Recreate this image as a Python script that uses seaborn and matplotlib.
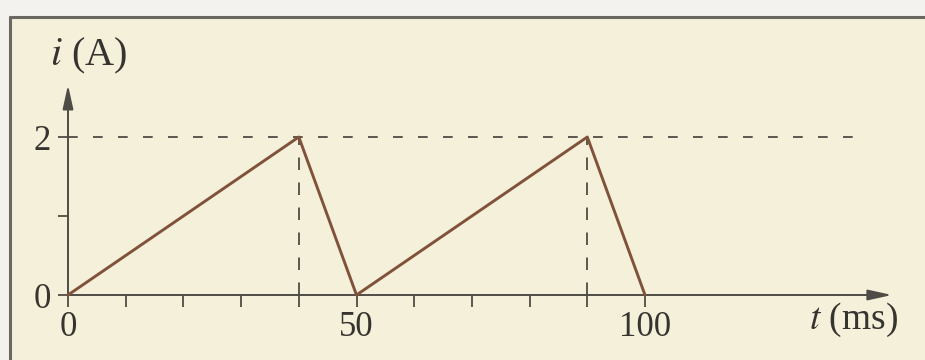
import matplotlib
matplotlib.use("Agg")
import matplotlib.pyplot as plt
import seaborn as sns
from matplotlib.lines import Line2D
from matplotlib.patches import Rectangle

# Current waveform i(t): sawtooth with 40 ms rise and 10 ms fall
t_ms = [0, 40, 50, 90, 100]
i_amp = [0, 2, 0, 2, 0]
peak_times = [40, 90]
peak_level = 2

x_ticks = [0, 10, 20, 30, 40, 50, 60, 70, 80, 90, 100]
x_tick_labels = ["0", "", "", "", "", "50", "", "", "", "", "100"]
y_ticks = [0, 1, 2]
y_tick_labels = ["0", "", "2"]

sns.set_style("white")
plt.rcParams["font.family"] = ["Liberation Serif", "DejaVu Serif"]
plt.rcParams["mathtext.fontset"] = "stix"
plt.rcParams["lines.scale_dashes"] = False

W, H = 925, 360
paper = "#f5f0da"
ink = "#4f4b45"
text_ink = "#37342f"
wave = "#80523a"

fig = plt.figure(figsize=(W / 100, H / 100), dpi=100, facecolor="#f3f2ee")

# paper panel with its top and left frame lines
fig.add_artist(Rectangle((10 / W, 0), 1 - 10 / W, 1 - 17 / H, transform=fig.transFigure,
                         facecolor=paper, edgecolor="none", zorder=-2))
fig.add_artist(Line2D([10 / W, 1], [1 - 17 / H] * 2, transform=fig.transFigure,
                      color="#6b6862", lw=2.2, zorder=-1))
fig.add_artist(Line2D([10 / W] * 2, [0, 1 - 17 / H], transform=fig.transFigure,
                      color="#6b6862", lw=2.2, zorder=-1))

ax = fig.add_axes([0, 0, 1, 1])
ax.patch.set_visible(False)

# pixel scale of the axes: origin at (68, 295), 5.77 px per ms, 79 px per ampere
x0, y0, px_ms, px_a = 68, 295, 5.77, 79
ax.set_xlim(-x0 / px_ms, (W - x0) / px_ms)
ax.set_ylim(-(H - y0) / px_a, y0 / px_a)

x_tip, y_tip = 142.8, 2.66

# guide lines at the peaks
ax.plot([0, 138.5], [peak_level, peak_level], color=ink, lw=1.3,
        linestyle=(0, (7, 11)), zorder=1)
for tp in peak_times:
    ax.plot([tp, tp], [0, peak_level], color=ink, lw=1.3,
            linestyle=(0, (9, 9)), zorder=1)

sns.lineplot(x=t_ms, y=i_amp, ax=ax, color=wave, lw=2.1, zorder=3,
             estimator=None, sort=False)

# axes through the origin with arrowheads
for s in ["top", "right"]:
    ax.spines[s].set_visible(False)
for s in ["left", "bottom"]:
    ax.spines[s].set_position(("data", 0))
    ax.spines[s].set_color(ink)
    ax.spines[s].set_linewidth(1.4)
ax.spines["bottom"].set_bounds(0, x_tip - 2)
ax.spines["left"].set_bounds(0, y_tip - 0.15)

arrow = dict(arrowstyle="-|>,head_length=1.45,head_width=0.32", color=ink,
             lw=1.4, shrinkA=0, shrinkB=0, mutation_scale=10)
ax.annotate("", xy=(x_tip, 0), xytext=(x_tip - 5, 0), arrowprops=arrow)
ax.annotate("", xy=(0, y_tip), xytext=(0, y_tip - 0.3), arrowprops=arrow)

ax.set_xticks(x_ticks, x_tick_labels)
ax.set_yticks(y_ticks, y_tick_labels)
ax.tick_params(axis="x", direction="out", length=8.5, width=1.3, color=ink,
               pad=3, labelsize=25, labelcolor=text_ink)
ax.tick_params(axis="y", direction="out", length=7.5, width=1.3, color=ink,
               pad=5, labelsize=25, labelcolor=text_ink)
ax.xaxis.set_ticks_position("bottom")
ax.yaxis.set_ticks_position("left")

ax.text(3.6, 3.03, r"$i$ (A)", fontsize=29, color=text_ink,
        ha="center", va="center")
ax.text(136.2, -0.31, r"$t$ (ms)", fontsize=27, color=text_ink,
        ha="center", va="center")

fig.savefig("out.png", dpi=100, facecolor=fig.get_facecolor())
